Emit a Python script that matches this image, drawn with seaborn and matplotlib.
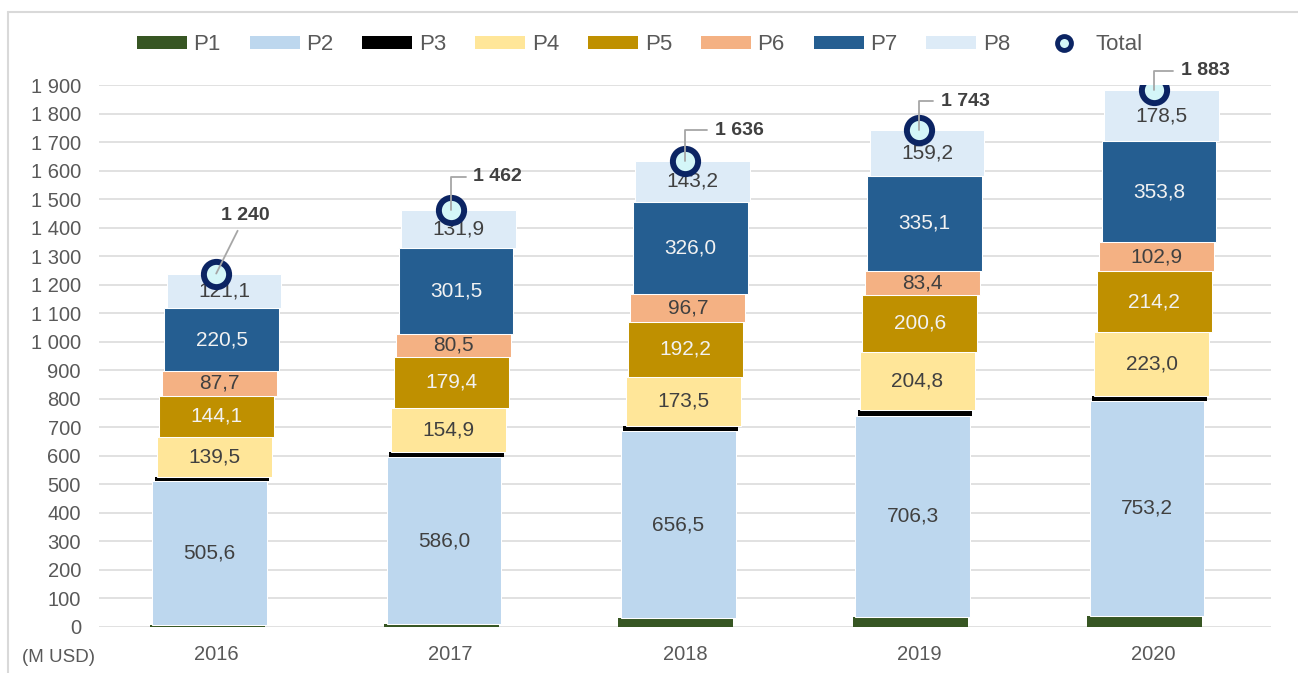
import numpy as np
import pandas as pd
import matplotlib
matplotlib.use("Agg")
import matplotlib.pyplot as plt
from matplotlib.patches import Patch
from matplotlib.lines import Line2D
from matplotlib.ticker import FuncFormatter
import seaborn as sns

# ---- data (M USD) ----
years = ["2016", "2017", "2018", "2019", "2020"]
p1 = [8.0, 10.0, 31.0, 35.0, 40.0]
p2 = [505.6, 586.0, 656.5, 706.3, 753.2]
p3 = [13.5, 17.8, 16.9, 18.6, 17.4]
p4 = [139.5, 154.9, 173.5, 204.8, 223.0]
p5 = [144.1, 179.4, 192.2, 200.6, 214.2]
p6 = [87.7, 80.5, 96.7, 83.4, 102.9]
p7 = [220.5, 301.5, 326.0, 335.1, 353.8]
p8 = [121.1, 131.9, 143.2, 159.2, 178.5]
totals = [1240, 1462, 1636, 1743, 1883]
series_names = ["P1", "P2", "P3", "P4", "P5", "P6", "P7", "P8"]
series_values = [p1, p2, p3, p4, p5, p6, p7, p8]

# ---- styling ----
colors = ["#375623", "#BDD7EE", "#000000", "#FFE699",
          "#BF9000", "#F4B183", "#255E91", "#DDEBF7"]
show_labels = [False, True, False, True, True, True, True, True]
label_colors = ["#404040", "#404040", "#404040", "#404040",
                "#F2F2F2", "#404040", "#F2F2F2", "#404040"]
# small rightward step of each stacked segment (in category units)
seg_shift = [(-9 + 2.4 * i) / 234.4 for i in range(8)]
# offsets (points) of the total labels from their markers
total_label_offsets = [(21, 42), (34, 24), (39, 22), (33, 21), (37, 14)]

TEXT = "#404040"
TICK = "#595959"
GRID = "#D9D9D9"
NAVY = "#0B2463"
RING_FILL = "#D4F6F8"
LEADER = "#A6A6A6"

sns.set_theme(style="white")
plt.rcParams["font.family"] = ["Liberation Sans", "DejaVu Sans"]

fig = plt.figure(figsize=(12.98, 6.73), dpi=100)
ax = fig.add_axes([0.0763, 0.0684, 0.9027, 0.8046])

idx = np.arange(len(years), dtype=float)


def fmt_dec(v):
    return f"{v:.1f}".replace(".", ",")


def fmt_thousands(v, pos=None):
    return f"{int(round(v)):,}".replace(",", " ")


bottom = np.zeros(len(years))
for i, (name, vals) in enumerate(zip(series_names, series_values)):
    vals = np.asarray(vals, dtype=float)
    df = pd.DataFrame({"x": idx + seg_shift[i], "y": vals})
    edge_lw = 0 if name in ("P1", "P3") else 0.75
    sns.barplot(data=df, x="x", y="y", bottom=bottom.copy(), native_scale=True,
                width=0.49, color=colors[i], saturation=1, errorbar=None,
                edgecolor="white", linewidth=edge_lw, ax=ax, zorder=2)
    cont = ax.containers[-1]
    if show_labels[i]:
        ax.bar_label(cont, labels=[fmt_dec(v) for v in vals], label_type="center",
                     color=label_colors[i], fontsize=15)
    bottom += vals

# total markers
sns.scatterplot(x=idx, y=totals, s=330, color=RING_FILL, edgecolor=NAVY,
                linewidth=4.3, ax=ax, zorder=5, legend=False)

for i, tot in enumerate(totals):
    dx, dy = total_label_offsets[i]
    conn = "arc3" if i == 0 else "angle,angleA=0,angleB=90,rad=0"
    ax.annotate(fmt_thousands(tot), xy=(idx[i], tot), xytext=(dx, dy),
                textcoords="offset points", ha="center", va="center",
                fontsize=14, fontweight="bold", color=TEXT, zorder=6,
                annotation_clip=False,
                arrowprops=dict(arrowstyle="-", color=LEADER, lw=1.3,
                                shrinkA=3, shrinkB=0, connectionstyle=conn))

# axes
ax.set_xlim(-0.5, len(years) - 0.5)
ax.set_ylim(0, 1900)
ax.set_yticks(np.arange(0, 1901, 100))
ax.yaxis.set_major_formatter(FuncFormatter(fmt_thousands))
ax.set_xticks(idx)
ax.set_xticklabels(years)
ax.tick_params(axis="both", length=0, labelsize=14.5, labelcolor=TICK)
ax.tick_params(axis="y", pad=13)
ax.tick_params(axis="x", pad=13)
ax.set_xlabel("")
ax.set_ylabel("")
ax.grid(axis="y", color=GRID, linewidth=1.1)
ax.grid(axis="x", visible=False)
ax.set_axisbelow(True)
for s in ax.spines.values():
    s.set_visible(False)

fig.text(22 / 1298, 1 - 658 / 673, "(M USD)", fontsize=13.5, color=TICK,
         ha="left", va="center")

# legend
handles = [Patch(facecolor=c, edgecolor="none") for c in colors]
handles.append(Line2D([], [], linestyle="none", marker="o", markersize=10,
                      markerfacecolor=RING_FILL, markeredgecolor=NAVY,
                      markeredgewidth=3.5))
fig.legend(handles, series_names + ["Total"], loc="center",
           bbox_to_anchor=(0.493, 1 - 45 / 673), ncol=9, frameon=False,
           fontsize=16, labelcolor=TICK, handlelength=2.25, handleheight=0.54,
           handletextpad=0.3, columnspacing=1.3)

# chart-area frame
fig.add_artist(Line2D([8 / 1298, 8 / 1298], [0, 1 - 12 / 673],
                      transform=fig.transFigure, color=GRID, lw=1.5))
fig.add_artist(Line2D([8 / 1298, 1], [1 - 12 / 673, 1 - 12 / 673],
                      transform=fig.transFigure, color=GRID, lw=1.5))

fig.savefig("out.png", dpi=100)
